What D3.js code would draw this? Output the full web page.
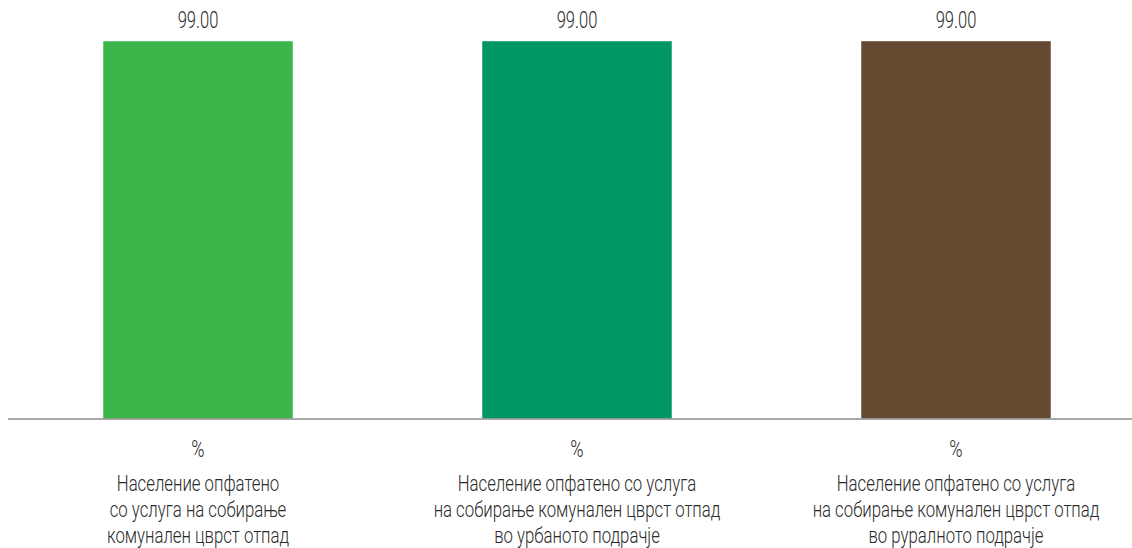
<!DOCTYPE html>
<html>
<head>
<meta charset="utf-8">
<script src="https://cdn.jsdelivr.net/npm/d3@7"></script>
<style>
  html, body { margin: 0; padding: 0; background: #fff; }
  svg { display: block; }
  text { font-family: "Roboto", "DejaVu Sans Condensed", sans-serif; font-weight: 300; fill: #2a2a2a; }
</style>
</head>
<body>
<svg id="chart" width="1132" height="548"></svg>
<script>
// Category labels (each line drawn separately), values and bar colours
const categories = [
  ["Население опфатено", "со услуга на собирање", "комунален цврст отпад"],
  ["Население опфатено со услуга", "на собирање комунален цврст отпад", "во урбаното подрачје"],
  ["Население опфатено со услуга", "на собирање комунален цврст отпад", "во руралното подрачје"]
];
const units = ["%", "%", "%"];
const values = [99.00, 99.00, 99.00];
const colors = ["#3cb54a", "#009764", "#654a32"];

const svg = d3.select("#chart");
const baseY = 418.5;
const topY = 37.4;
const condense = 0.78;      // horizontal squeeze giving a condensed face
const condenseVal = 0.72;

const x = d3.scaleBand()
  .domain(d3.range(values.length))
  .range([8.5, 1145.5])
  .paddingInner(0.5)
  .paddingOuter(0.25);

const y = d3.scaleLinear().domain([0, 100]).range([baseY, topY]);
const cx = i => x(i) + x.bandwidth() / 2;

// bars
svg.append("g").selectAll("rect")
  .data(values)
  .join("rect")
  .attr("x", (d, i) => x(i))
  .attr("width", x.bandwidth())
  .attr("y", d => y(d))
  .attr("height", d => y(0) - y(d))
  .attr("fill", (d, i) => colors[i]);

// value labels above bars
svg.append("g").selectAll("text")
  .data(values)
  .join("text")
  .attr("transform", (d, i) => `translate(${cx(i)},${y(d) - 13}) scale(${condenseVal},1)`)
  .attr("text-anchor", "middle")
  .attr("font-size", 23)
  .text(d => d3.format(".2f")(d));

// baseline
svg.append("line")
  .attr("x1", 8).attr("x2", 1132)
  .attr("y1", baseY + 0.5).attr("y2", baseY + 0.5)
  .attr("stroke", "#8c8c8c")
  .attr("stroke-width", 1.5);

// category labels: unit line, then wrapped name
const lab = svg.append("g").selectAll("g")
  .data(categories)
  .join("g")
  .attr("transform", (d, i) => `translate(${cx(i)},0)`);

lab.append("text")
  .attr("transform", `translate(0,457) scale(${condense},1)`)
  .attr("text-anchor", "middle")
  .attr("font-size", 23)
  .text((d, i) => units[i]);

lab.selectAll("text.name")
  .data(d => d)
  .join("text")
  .attr("class", "name")
  .attr("transform", (d, j) => `translate(0,${491 + j * 26}) scale(${condense},1)`)
  .attr("text-anchor", "middle")
  .attr("font-size", 21.5)
  .text(d => d);
</script>
</body>
</html>
